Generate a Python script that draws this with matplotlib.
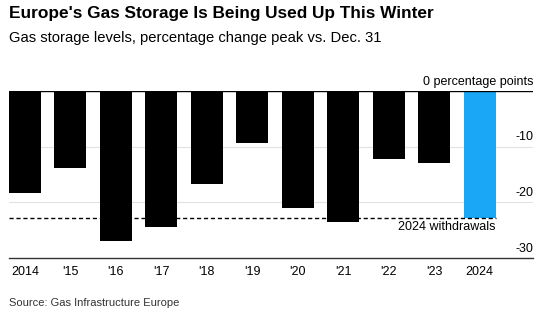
import numpy as np
import matplotlib.pyplot as plt
from matplotlib.transforms import blended_transform_factory

plt.rcParams['font.family'] = ['Liberation Sans', 'DejaVu Sans']

# data
years = ['2014', "'15", "'16", "'17", "'18", "'19", "'20", "'21", "'22", "'23", '2024']
change = [-18.3, -13.9, -26.9, -24.5, -16.8, -9.3, -21.1, -23.5, -12.2, -13.0, -22.9]
withdrawals_2024 = -22.9
yticks = [0, -10, -20, -30]
ytick_labels = ['0 percentage points', '-10', '-20', '-30']

colors = ['#000000'] * (len(years) - 1) + ['#1aa7f5']

fig = plt.figure(figsize=(5.52, 3.22), dpi=100)
ax = fig.add_axes([0.0163, 0.199, 0.9493, 0.5186])

x = np.arange(len(years))
ax.bar(x, change, width=0.7, color=colors, zorder=3)

ax.set_xlim(-0.35, 11.17)
ax.set_ylim(-30, 0)

# gridlines
for v in yticks[1:-1]:
    ax.axhline(v, color='#e2e2e2', lw=0.8, zorder=1)
ax.axhline(0, color='black', lw=1.0, zorder=4)

for s in ['top', 'right', 'left']:
    ax.spines[s].set_visible(False)
ax.spines['bottom'].set_color('#333333')
ax.spines['bottom'].set_linewidth(1.0)

ax.set_yticks([])
ax.set_xticks(x)
ax.set_xticklabels(years, fontsize=9)
ax.tick_params(axis='x', length=0, pad=6)

# y labels sit above their gridlines at the right edge
trans = blended_transform_factory(ax.transAxes, ax.transData)
for v, lab in zip(yticks, ytick_labels):
    ax.text(1.0, v + 0.6, lab, transform=trans, ha='right', va='bottom',
            fontsize=9, color='black')

# dashed 2024 line
ax.plot([-0.35, x[-1] + 0.35], [withdrawals_2024, withdrawals_2024], color='black',
        lw=1.0, ls=(0, (3, 2)), zorder=5, clip_on=False)
ax.text(x[-1] + 0.35, withdrawals_2024 - 0.5, '2024 withdrawals', ha='right', va='top',
        fontsize=9, zorder=5)

fig.text(0.0163, 0.98, "Europe's Gas Storage Is Being Used Up This Winter",
         fontsize=12.4, fontweight='bold', va='top')
fig.text(0.0163, 0.882, 'Gas storage levels, percentage change peak vs. Dec. 31',
         fontsize=10.6, va='center')
fig.text(0.0163, 0.06, 'Source: Gas Infrastructure Europe', fontsize=8,
         color='#333333', va='center')

plt.savefig('out.png', dpi=100)
